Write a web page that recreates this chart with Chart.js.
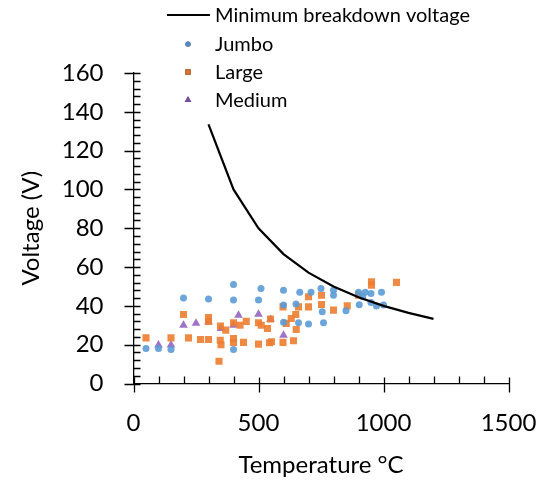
<!DOCTYPE html>
<html>
<head>
<meta charset="utf-8">
<script src="https://cdn.jsdelivr.net/npm/chart.js@4.4.0/dist/chart.umd.min.js"></script>
<style>
  html, body { margin: 0; padding: 0; background: #fff; }
  .chart-container { position: relative; width: 556px; height: 485px; }
</style>
</head>
<body>
<div class="chart-container">
  <canvas id="chart"></canvas>
</div>
<script>
// minimum breakdown voltage curve
const limitTemp = [300, 400, 500, 600, 700, 800, 900, 1000, 1100, 1200];
const limitVolt = [133.5, 100, 80, 66.7, 57.1, 50, 44.4, 40, 36.4, 33.3];

// Jumbo
const jumboTemp = [50, 100, 150, 200, 300, 400, 400, 400, 510, 500, 600, 600, 600, 650, 660, 665, 700, 710, 750, 755, 760, 800, 800, 850, 900, 903, 917, 927, 950, 950, 972, 992, 1000];
const jumboVolt = [18, 18, 17.5, 44, 43.5, 51, 43, 17.5, 49, 43, 48, 40.5, 31.5, 41, 31.3, 47, 30.7, 47, 49, 37, 31.3, 48, 45.5, 37.5, 47, 40.6, 44.7, 47, 46.4, 41.8, 40, 47, 40.4];

// Large
const largeTemp = [50, 150, 200, 220, 268, 300, 300, 300, 348, 347, 350, 342, 369, 400, 400, 400, 426, 451, 440, 500, 511, 500, 536, 544, 548, 552, 598, 640, 598, 611, 631, 649, 651, 660, 700, 700, 752, 752, 800, 855, 900, 952, 952, 1052];
const largeVolt = [23.5, 23.5, 35.6, 23.5, 22.7, 22.7, 34, 32, 29.6, 22.3, 20, 11.5, 27.5, 31.3, 23.2, 21.1, 30, 32, 21.2, 31.3, 30, 20.3, 28.3, 21, 33.2, 21.5, 21.2, 22, 39.5, 31, 33.5, 35.6, 27.8, 39.5, 44.7, 39.5, 45.5, 40.7, 37.8, 40, 45.5, 52.4, 50.7, 52.1];

// Medium
const mediumTemp = [100, 150, 200, 250, 300, 350, 400, 420, 500, 548, 600];
const mediumVolt = [19.8, 19.8, 30, 31, 31.8, 28.4, 30, 35.2, 35.7, 33, 24.9];

const xTicks = [0, 500, 1000, 1500];
const yTicks = [0, 20, 40, 60, 80, 100, 120, 140, 160];

const FONT = 'Lato, "Liberation Sans", sans-serif';
const pairs = (xs, ys) => xs.map((x, i) => ({ x: x, y: ys[i] }));

// axis tick marks: majors cross the axis, minors point inward
const tickMarks = {
  id: 'tickMarks',
  afterDraw(chart) {
    const ctx = chart.ctx;
    const xs = chart.scales.x, ys = chart.scales.y;
    const x0 = xs.getPixelForValue(0), y0 = ys.getPixelForValue(0);
    ctx.save();
    ctx.strokeStyle = '#000';
    ctx.lineWidth = 1.3;
    ctx.beginPath();
    for (let v = 0; v <= 160; v += 4) {
      const py = Math.round(ys.getPixelForValue(v)) + 0.5;
      if (v % 20 === 0) { ctx.moveTo(x0 - 9, py); ctx.lineTo(x0 + 7, py); }
      else { ctx.moveTo(x0, py); ctx.lineTo(x0 + 7, py); }
    }
    for (let v = 0; v <= 1500; v += 100) {
      const px = Math.round(xs.getPixelForValue(v)) + 0.5;
      if (v % 500 === 0) { ctx.moveTo(px, y0 - 6); ctx.lineTo(px, y0 + 9); }
      else { ctx.moveTo(px, y0); ctx.lineTo(px, y0 - 7); }
    }
    ctx.stroke();
    ctx.restore();
  }
};

// legend as a single column, upper right
const columnLegend = {
  id: 'columnLegend',
  afterDraw(chart) {
    const ctx = chart.ctx;
    const sets = chart.data.datasets;
    const rows = [15, 44, 72, 100];
    ctx.save();
    ctx.font = '20px ' + FONT;
    ctx.textBaseline = 'middle';
    ctx.fillStyle = '#000';
    sets.forEach((ds, i) => {
      const y = rows[i];
      if (ds.showLine) {
        ctx.strokeStyle = ds.borderColor;
        ctx.lineWidth = 2.2;
        ctx.beginPath();
        ctx.moveTo(167, y);
        ctx.lineTo(210, y);
        ctx.stroke();
      } else {
        Chart.helpers.drawPoint(ctx, {
          pointStyle: ds.pointStyle,
          radius: ds.legendRadius,
          borderWidth: 0,
          rotation: 0
        }, 188, y);
        ctx.fillStyle = ds.backgroundColor;
        ctx.fill();
      }
      ctx.fillStyle = '#000';
      ctx.fillText(ds.label, 215, y + 1);
    });
    ctx.restore();
  }
};

new Chart(document.getElementById('chart'), {
  type: 'scatter',
  data: {
    datasets: [
      {
        label: 'Minimum breakdown voltage',
        data: pairs(limitTemp, limitVolt),
        showLine: true,
        borderColor: '#000',
        borderWidth: 2.2,
        pointRadius: 0,
        tension: 0
      },
      {
        label: 'Jumbo',
        data: pairs(jumboTemp, jumboVolt),
        pointStyle: 'circle',
        pointRadius: 3.5,
        legendRadius: 2.6,
        backgroundColor: 'rgba(91,155,213,0.9)',
        borderColor: 'rgba(91,155,213,0.9)',
        borderWidth: 0
      },
      {
        label: 'Large',
        data: pairs(largeTemp, largeVolt),
        pointStyle: 'rect',
        pointRadius: 5,
        legendRadius: 3.8,
        backgroundColor: 'rgba(237,125,49,0.9)',
        borderColor: 'rgba(237,125,49,0.9)',
        borderWidth: 0
      },
      {
        label: 'Medium',
        data: pairs(mediumTemp, mediumVolt),
        pointStyle: 'triangle',
        pointRadius: 5,
        legendRadius: 3.8,
        backgroundColor: 'rgba(141,91,190,0.85)',
        borderColor: 'rgba(141,91,190,0.85)',
        borderWidth: 0
      }
    ]
  },
  options: {
    responsive: true,
    maintainAspectRatio: false,
    animation: false,
    layout: { padding: { top: 73, right: 47.5, bottom: 0, left: 0 } },
    plugins: {
      legend: { display: false },
      tooltip: { enabled: false }
    },
    scales: {
      x: {
        type: 'linear',
        min: 0,
        max: 1500,
        afterFit(scale) {
          scale.height = 101.5;
          scale.paddingLeft = 0;
          scale.paddingRight = 30;
        },
        afterBuildTicks(scale) { scale.ticks = xTicks.map(v => ({ value: v })); },
        grid: { display: false, drawTicks: false },
        border: { display: true, color: '#000', width: 1.3 },
        ticks: {
          color: '#000',
          padding: 25,
          maxRotation: 0,
          font: { family: FONT, size: 24 },
          callback: v => String(v)
        },
        title: {
          display: true,
          text: 'Temperature °C',
          color: '#000',
          padding: { top: 0, bottom: 5 },
          font: { family: FONT, size: 24 }
        }
      },
      y: {
        type: 'linear',
        min: 0,
        max: 160,
        afterFit(scale) { scale.width = 133.5; },
        afterBuildTicks(scale) { scale.ticks = yTicks.map(v => ({ value: v })); },
        grid: { display: false, drawTicks: false },
        border: { display: true, color: '#000', width: 1.3 },
        ticks: {
          color: '#000',
          padding: 30,
          font: { family: FONT, size: 24 },
          callback: v => String(v)
        },
        title: {
          display: true,
          text: 'Voltage (V)',
          color: '#000',
          padding: { top: 17, bottom: 0 },
          font: { family: FONT, size: 24 }
        }
      }
    }
  },
  plugins: [tickMarks, columnLegend]
});
</script>
</body>
</html>
